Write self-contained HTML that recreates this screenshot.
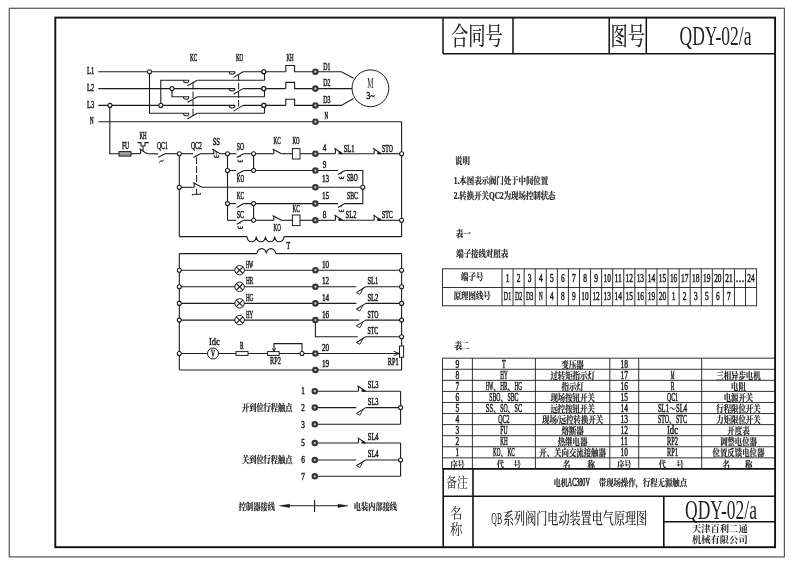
<!DOCTYPE html>
<html lang="zh"><head><meta charset="utf-8"><title>QDY-02/a</title>
<style>
html,body{margin:0;padding:0;background:#fff;}
svg{display:block;will-change:transform;}
.l{font-family:"Liberation Serif",serif;}
.c{font-family:"Liberation Serif","Noto Serif CJK SC",serif;}
</style></head><body>
<svg width="800" height="566" viewBox="0 0 800 566">
<rect width="800" height="566" fill="#fff"/>
<rect x="9.30" y="8.30" width="775.10" height="548.60" fill="none" stroke="#5a5a5a" stroke-width="1.25"/>
<rect x="55.30" y="17.60" width="719.80" height="529.60" fill="none" stroke="#111" stroke-width="1.9"/>
<line x1="443.00" y1="17.60" x2="443.00" y2="53.80" stroke="#111" stroke-width="1.5" />
<line x1="443.00" y1="53.80" x2="775.20" y2="53.80" stroke="#111" stroke-width="1.5" />
<line x1="513.00" y1="17.60" x2="513.00" y2="53.80" stroke="#111" stroke-width="1.5" />
<line x1="609.20" y1="17.60" x2="609.20" y2="53.80" stroke="#111" stroke-width="1.5" />
<line x1="646.30" y1="17.60" x2="646.30" y2="53.80" stroke="#111" stroke-width="1.5" />
<text transform="translate(451.00,44.50) scale(0.690,1)" font-size="25" text-anchor="start" font-weight="500" fill="#222" class="c">合同号</text>
<text transform="translate(610.50,44.50) scale(0.690,1)" font-size="25" text-anchor="start" font-weight="500" fill="#222" class="c">图号</text>
<text transform="translate(679.50,45.00) scale(0.649,1)" font-size="27" text-anchor="start" font-weight="400" fill="#222" class="l">QDY-02/a</text>
<line x1="442.50" y1="468.90" x2="775.20" y2="468.90" stroke="#111" stroke-width="1.6" />
<line x1="443.20" y1="468.90" x2="443.20" y2="547.20" stroke="#111" stroke-width="1.6" />
<line x1="473.00" y1="468.90" x2="473.00" y2="547.20" stroke="#111" stroke-width="1.6" />
<line x1="443.20" y1="496.30" x2="775.20" y2="496.30" stroke="#111" stroke-width="1.6" />
<line x1="663.80" y1="496.30" x2="663.80" y2="547.20" stroke="#111" stroke-width="1.6" />
<line x1="663.80" y1="521.80" x2="775.20" y2="521.80" stroke="#111" stroke-width="1.6" />
<text transform="translate(446.30,487.00) scale(0.790,1)" font-size="13.5" text-anchor="start" font-weight="400" fill="#222" class="c">备注</text>
<text transform="translate(450.00,517.50) scale(0.930,1)" font-size="13.5" text-anchor="start" font-weight="400" fill="#222" class="c">名</text>
<text transform="translate(450.00,534.00) scale(0.930,1)" font-size="13.5" text-anchor="start" font-weight="400" fill="#222" class="c">称</text>
<text transform="translate(491.30,524.00) scale(0.457,1)" font-size="17" text-anchor="start" font-weight="400" fill="#222" class="l">QB</text>
<text transform="translate(503.00,524.00) scale(0.716,1)" font-size="15.5" text-anchor="start" font-weight="500" fill="#222" class="c">系列阀门电动装置电气原理图</text>
<text transform="translate(553.80,486.00) scale(0.740,1)" font-size="9.5" text-anchor="start" font-weight="700" fill="#222" stroke="#222" stroke-width="0.2" class="c">电机</text>
<text transform="translate(567.80,485.60) scale(0.530,1)" font-size="11.5" text-anchor="start" font-weight="400" fill="#222" stroke="#222" stroke-width="0.45" vector-effect="non-scaling-stroke" class="l">AC380V</text>
<text transform="translate(598.80,486.00) scale(0.775,1)" font-size="9.5" text-anchor="start" font-weight="700" fill="#222" stroke="#222" stroke-width="0.2" class="c">带现场操作，行程无源触点</text>
<text transform="translate(685.00,518.50) scale(0.649,1)" font-size="27" text-anchor="start" font-weight="400" fill="#222" class="l">QDY-02/a</text>
<text transform="translate(719.80,532.00) scale(1.000,1)" font-size="9.3" text-anchor="middle" font-weight="700" fill="#222" class="c">天津百利二通</text>
<text transform="translate(719.80,542.70) scale(1.000,1)" font-size="9.3" text-anchor="middle" font-weight="700" fill="#222" class="c">机械有限公司</text>
<text transform="translate(455.00,164.30) scale(0.780,1)" font-size="9.5" text-anchor="start" font-weight="700" fill="#222" stroke="#222" stroke-width="0.2" class="c">说明</text>
<text transform="translate(453.80,184.00) scale(0.780,1)" font-size="9.5" text-anchor="start" font-weight="700" fill="#222" stroke="#222" stroke-width="0.2" class="c">1.本图表示阀门处于中间位置</text>
<text transform="translate(453.80,198.50) scale(0.780,1)" font-size="9.5" text-anchor="start" font-weight="700" fill="#222" stroke="#222" stroke-width="0.2" class="c">2.转换开关QC2为现场控制状态</text>
<text transform="translate(455.80,236.70) scale(0.780,1)" font-size="9.5" text-anchor="start" font-weight="700" fill="#222" stroke="#222" stroke-width="0.2" class="c">表一</text>
<text transform="translate(456.30,257.00) scale(0.780,1)" font-size="9.5" text-anchor="start" font-weight="700" fill="#222" stroke="#222" stroke-width="0.2" class="c">端子接线对照表</text>
<text transform="translate(454.40,348.50) scale(0.780,1)" font-size="9.5" text-anchor="start" font-weight="700" fill="#222" stroke="#222" stroke-width="0.2" class="c">表二</text>
<rect x="442.50" y="268.80" width="314.10" height="37.00" fill="none" stroke="#1c1c1c" stroke-width="0.9"/>
<line x1="442.50" y1="287.50" x2="756.60" y2="287.50" stroke="#1c1c1c" stroke-width="0.9" />
<line x1="502.00" y1="268.80" x2="502.00" y2="305.80" stroke="#1c1c1c" stroke-width="0.9" />
<line x1="513.07" y1="268.80" x2="513.07" y2="305.80" stroke="#1c1c1c" stroke-width="0.9" />
<line x1="524.14" y1="268.80" x2="524.14" y2="305.80" stroke="#1c1c1c" stroke-width="0.9" />
<line x1="535.21" y1="268.80" x2="535.21" y2="305.80" stroke="#1c1c1c" stroke-width="0.9" />
<line x1="546.28" y1="268.80" x2="546.28" y2="305.80" stroke="#1c1c1c" stroke-width="0.9" />
<line x1="557.35" y1="268.80" x2="557.35" y2="305.80" stroke="#1c1c1c" stroke-width="0.9" />
<line x1="568.42" y1="268.80" x2="568.42" y2="305.80" stroke="#1c1c1c" stroke-width="0.9" />
<line x1="579.49" y1="268.80" x2="579.49" y2="305.80" stroke="#1c1c1c" stroke-width="0.9" />
<line x1="590.56" y1="268.80" x2="590.56" y2="305.80" stroke="#1c1c1c" stroke-width="0.9" />
<line x1="601.63" y1="268.80" x2="601.63" y2="305.80" stroke="#1c1c1c" stroke-width="0.9" />
<line x1="612.70" y1="268.80" x2="612.70" y2="305.80" stroke="#1c1c1c" stroke-width="0.9" />
<line x1="623.77" y1="268.80" x2="623.77" y2="305.80" stroke="#1c1c1c" stroke-width="0.9" />
<line x1="634.83" y1="268.80" x2="634.83" y2="305.80" stroke="#1c1c1c" stroke-width="0.9" />
<line x1="645.90" y1="268.80" x2="645.90" y2="305.80" stroke="#1c1c1c" stroke-width="0.9" />
<line x1="656.97" y1="268.80" x2="656.97" y2="305.80" stroke="#1c1c1c" stroke-width="0.9" />
<line x1="668.04" y1="268.80" x2="668.04" y2="305.80" stroke="#1c1c1c" stroke-width="0.9" />
<line x1="679.11" y1="268.80" x2="679.11" y2="305.80" stroke="#1c1c1c" stroke-width="0.9" />
<line x1="690.18" y1="268.80" x2="690.18" y2="305.80" stroke="#1c1c1c" stroke-width="0.9" />
<line x1="701.25" y1="268.80" x2="701.25" y2="305.80" stroke="#1c1c1c" stroke-width="0.9" />
<line x1="712.32" y1="268.80" x2="712.32" y2="305.80" stroke="#1c1c1c" stroke-width="0.9" />
<line x1="723.39" y1="268.80" x2="723.39" y2="305.80" stroke="#1c1c1c" stroke-width="0.9" />
<line x1="734.46" y1="268.80" x2="734.46" y2="305.80" stroke="#1c1c1c" stroke-width="0.9" />
<line x1="745.53" y1="268.80" x2="745.53" y2="305.80" stroke="#1c1c1c" stroke-width="0.9" />
<text transform="translate(472.20,280.30) scale(0.780,1)" font-size="9.5" text-anchor="middle" font-weight="700" fill="#222" stroke="#222" stroke-width="0.2" class="c">端子号</text>
<text transform="translate(472.20,298.80) scale(0.780,1)" font-size="9.5" text-anchor="middle" font-weight="700" fill="#222" stroke="#222" stroke-width="0.2" class="c">原理图线号</text>
<text transform="translate(507.53,282.30) scale(0.617,1)" font-size="12" text-anchor="middle" font-weight="400" fill="#222" stroke="#222" stroke-width="0.45" vector-effect="non-scaling-stroke" class="l">1</text>
<text transform="translate(507.53,299.80) scale(0.505,1)" font-size="12" text-anchor="middle" font-weight="400" fill="#222" stroke="#222" stroke-width="0.45" vector-effect="non-scaling-stroke" class="l">D1</text>
<text transform="translate(518.60,282.30) scale(0.617,1)" font-size="12" text-anchor="middle" font-weight="400" fill="#222" stroke="#222" stroke-width="0.45" vector-effect="non-scaling-stroke" class="l">2</text>
<text transform="translate(518.60,299.80) scale(0.505,1)" font-size="12" text-anchor="middle" font-weight="400" fill="#222" stroke="#222" stroke-width="0.45" vector-effect="non-scaling-stroke" class="l">D2</text>
<text transform="translate(529.67,282.30) scale(0.617,1)" font-size="12" text-anchor="middle" font-weight="400" fill="#222" stroke="#222" stroke-width="0.45" vector-effect="non-scaling-stroke" class="l">3</text>
<text transform="translate(529.67,299.80) scale(0.505,1)" font-size="12" text-anchor="middle" font-weight="400" fill="#222" stroke="#222" stroke-width="0.45" vector-effect="non-scaling-stroke" class="l">D3</text>
<text transform="translate(540.74,282.30) scale(0.617,1)" font-size="12" text-anchor="middle" font-weight="400" fill="#222" stroke="#222" stroke-width="0.45" vector-effect="non-scaling-stroke" class="l">4</text>
<text transform="translate(540.74,299.80) scale(0.427,1)" font-size="12" text-anchor="middle" font-weight="400" fill="#222" stroke="#222" stroke-width="0.45" vector-effect="non-scaling-stroke" class="l">N</text>
<text transform="translate(551.81,282.30) scale(0.617,1)" font-size="12" text-anchor="middle" font-weight="400" fill="#222" stroke="#222" stroke-width="0.45" vector-effect="non-scaling-stroke" class="l">5</text>
<text transform="translate(551.81,299.80) scale(0.617,1)" font-size="12" text-anchor="middle" font-weight="400" fill="#222" stroke="#222" stroke-width="0.45" vector-effect="non-scaling-stroke" class="l">4</text>
<text transform="translate(562.88,282.30) scale(0.617,1)" font-size="12" text-anchor="middle" font-weight="400" fill="#222" stroke="#222" stroke-width="0.45" vector-effect="non-scaling-stroke" class="l">6</text>
<text transform="translate(562.88,299.80) scale(0.617,1)" font-size="12" text-anchor="middle" font-weight="400" fill="#222" stroke="#222" stroke-width="0.45" vector-effect="non-scaling-stroke" class="l">8</text>
<text transform="translate(573.95,282.30) scale(0.617,1)" font-size="12" text-anchor="middle" font-weight="400" fill="#222" stroke="#222" stroke-width="0.45" vector-effect="non-scaling-stroke" class="l">7</text>
<text transform="translate(573.95,299.80) scale(0.617,1)" font-size="12" text-anchor="middle" font-weight="400" fill="#222" stroke="#222" stroke-width="0.45" vector-effect="non-scaling-stroke" class="l">9</text>
<text transform="translate(585.02,282.30) scale(0.617,1)" font-size="12" text-anchor="middle" font-weight="400" fill="#222" stroke="#222" stroke-width="0.45" vector-effect="non-scaling-stroke" class="l">8</text>
<text transform="translate(585.02,299.80) scale(0.617,1)" font-size="12" text-anchor="middle" font-weight="400" fill="#222" stroke="#222" stroke-width="0.45" vector-effect="non-scaling-stroke" class="l">10</text>
<text transform="translate(596.09,282.30) scale(0.617,1)" font-size="12" text-anchor="middle" font-weight="400" fill="#222" stroke="#222" stroke-width="0.45" vector-effect="non-scaling-stroke" class="l">9</text>
<text transform="translate(596.09,299.80) scale(0.617,1)" font-size="12" text-anchor="middle" font-weight="400" fill="#222" stroke="#222" stroke-width="0.45" vector-effect="non-scaling-stroke" class="l">12</text>
<text transform="translate(607.16,282.30) scale(0.617,1)" font-size="12" text-anchor="middle" font-weight="400" fill="#222" stroke="#222" stroke-width="0.45" vector-effect="non-scaling-stroke" class="l">10</text>
<text transform="translate(607.16,299.80) scale(0.617,1)" font-size="12" text-anchor="middle" font-weight="400" fill="#222" stroke="#222" stroke-width="0.45" vector-effect="non-scaling-stroke" class="l">13</text>
<text transform="translate(618.23,282.30) scale(0.640,1)" font-size="12" text-anchor="middle" font-weight="400" fill="#222" stroke="#222" stroke-width="0.45" vector-effect="non-scaling-stroke" class="l">11</text>
<text transform="translate(618.23,299.80) scale(0.617,1)" font-size="12" text-anchor="middle" font-weight="400" fill="#222" stroke="#222" stroke-width="0.45" vector-effect="non-scaling-stroke" class="l">14</text>
<text transform="translate(629.30,282.30) scale(0.617,1)" font-size="12" text-anchor="middle" font-weight="400" fill="#222" stroke="#222" stroke-width="0.45" vector-effect="non-scaling-stroke" class="l">12</text>
<text transform="translate(629.30,299.80) scale(0.617,1)" font-size="12" text-anchor="middle" font-weight="400" fill="#222" stroke="#222" stroke-width="0.45" vector-effect="non-scaling-stroke" class="l">15</text>
<text transform="translate(640.37,282.30) scale(0.617,1)" font-size="12" text-anchor="middle" font-weight="400" fill="#222" stroke="#222" stroke-width="0.45" vector-effect="non-scaling-stroke" class="l">13</text>
<text transform="translate(640.37,299.80) scale(0.617,1)" font-size="12" text-anchor="middle" font-weight="400" fill="#222" stroke="#222" stroke-width="0.45" vector-effect="non-scaling-stroke" class="l">16</text>
<text transform="translate(651.44,282.30) scale(0.617,1)" font-size="12" text-anchor="middle" font-weight="400" fill="#222" stroke="#222" stroke-width="0.45" vector-effect="non-scaling-stroke" class="l">14</text>
<text transform="translate(651.44,299.80) scale(0.617,1)" font-size="12" text-anchor="middle" font-weight="400" fill="#222" stroke="#222" stroke-width="0.45" vector-effect="non-scaling-stroke" class="l">19</text>
<text transform="translate(662.51,282.30) scale(0.617,1)" font-size="12" text-anchor="middle" font-weight="400" fill="#222" stroke="#222" stroke-width="0.45" vector-effect="non-scaling-stroke" class="l">15</text>
<text transform="translate(662.51,299.80) scale(0.617,1)" font-size="12" text-anchor="middle" font-weight="400" fill="#222" stroke="#222" stroke-width="0.45" vector-effect="non-scaling-stroke" class="l">20</text>
<text transform="translate(673.58,282.30) scale(0.617,1)" font-size="12" text-anchor="middle" font-weight="400" fill="#222" stroke="#222" stroke-width="0.45" vector-effect="non-scaling-stroke" class="l">16</text>
<text transform="translate(673.58,299.80) scale(0.617,1)" font-size="12" text-anchor="middle" font-weight="400" fill="#222" stroke="#222" stroke-width="0.45" vector-effect="non-scaling-stroke" class="l">1</text>
<text transform="translate(684.65,282.30) scale(0.617,1)" font-size="12" text-anchor="middle" font-weight="400" fill="#222" stroke="#222" stroke-width="0.45" vector-effect="non-scaling-stroke" class="l">17</text>
<text transform="translate(684.65,299.80) scale(0.617,1)" font-size="12" text-anchor="middle" font-weight="400" fill="#222" stroke="#222" stroke-width="0.45" vector-effect="non-scaling-stroke" class="l">2</text>
<text transform="translate(695.72,282.30) scale(0.617,1)" font-size="12" text-anchor="middle" font-weight="400" fill="#222" stroke="#222" stroke-width="0.45" vector-effect="non-scaling-stroke" class="l">18</text>
<text transform="translate(695.72,299.80) scale(0.617,1)" font-size="12" text-anchor="middle" font-weight="400" fill="#222" stroke="#222" stroke-width="0.45" vector-effect="non-scaling-stroke" class="l">3</text>
<text transform="translate(706.79,282.30) scale(0.617,1)" font-size="12" text-anchor="middle" font-weight="400" fill="#222" stroke="#222" stroke-width="0.45" vector-effect="non-scaling-stroke" class="l">19</text>
<text transform="translate(706.79,299.80) scale(0.617,1)" font-size="12" text-anchor="middle" font-weight="400" fill="#222" stroke="#222" stroke-width="0.45" vector-effect="non-scaling-stroke" class="l">5</text>
<text transform="translate(717.86,282.30) scale(0.617,1)" font-size="12" text-anchor="middle" font-weight="400" fill="#222" stroke="#222" stroke-width="0.45" vector-effect="non-scaling-stroke" class="l">20</text>
<text transform="translate(717.86,299.80) scale(0.617,1)" font-size="12" text-anchor="middle" font-weight="400" fill="#222" stroke="#222" stroke-width="0.45" vector-effect="non-scaling-stroke" class="l">6</text>
<text transform="translate(728.93,282.30) scale(0.617,1)" font-size="12" text-anchor="middle" font-weight="400" fill="#222" stroke="#222" stroke-width="0.45" vector-effect="non-scaling-stroke" class="l">21</text>
<text transform="translate(728.93,299.80) scale(0.617,1)" font-size="12" text-anchor="middle" font-weight="400" fill="#222" stroke="#222" stroke-width="0.45" vector-effect="non-scaling-stroke" class="l">7</text>
<text transform="translate(740.00,282.30) scale(1.000,1)" font-size="12" text-anchor="middle" font-weight="400" fill="#222" stroke="#222" stroke-width="0.45" vector-effect="non-scaling-stroke" class="l">...</text>
<text transform="translate(751.07,282.30) scale(0.617,1)" font-size="12" text-anchor="middle" font-weight="400" fill="#222" stroke="#222" stroke-width="0.45" vector-effect="non-scaling-stroke" class="l">24</text>
<line x1="442.50" y1="358.20" x2="775.20" y2="358.20" stroke="#1c1c1c" stroke-width="0.9" />
<line x1="442.50" y1="369.27" x2="775.20" y2="369.27" stroke="#1c1c1c" stroke-width="0.9" />
<line x1="442.50" y1="380.34" x2="775.20" y2="380.34" stroke="#1c1c1c" stroke-width="0.9" />
<line x1="442.50" y1="391.41" x2="775.20" y2="391.41" stroke="#1c1c1c" stroke-width="0.9" />
<line x1="442.50" y1="402.48" x2="775.20" y2="402.48" stroke="#1c1c1c" stroke-width="0.9" />
<line x1="442.50" y1="413.55" x2="775.20" y2="413.55" stroke="#1c1c1c" stroke-width="0.9" />
<line x1="442.50" y1="424.62" x2="775.20" y2="424.62" stroke="#1c1c1c" stroke-width="0.9" />
<line x1="442.50" y1="435.69" x2="775.20" y2="435.69" stroke="#1c1c1c" stroke-width="0.9" />
<line x1="442.50" y1="446.76" x2="775.20" y2="446.76" stroke="#1c1c1c" stroke-width="0.9" />
<line x1="442.50" y1="457.83" x2="775.20" y2="457.83" stroke="#1c1c1c" stroke-width="0.9" />
<line x1="442.50" y1="358.20" x2="442.50" y2="468.90" stroke="#1c1c1c" stroke-width="0.9" />
<line x1="472.40" y1="358.20" x2="472.40" y2="468.90" stroke="#1c1c1c" stroke-width="0.9" />
<line x1="535.40" y1="358.20" x2="535.40" y2="468.90" stroke="#1c1c1c" stroke-width="0.9" />
<line x1="609.80" y1="358.20" x2="609.80" y2="468.90" stroke="#1c1c1c" stroke-width="0.9" />
<line x1="638.70" y1="358.20" x2="638.70" y2="468.90" stroke="#1c1c1c" stroke-width="0.9" />
<line x1="701.70" y1="358.20" x2="701.70" y2="468.90" stroke="#1c1c1c" stroke-width="0.9" />
<text transform="translate(457.45,367.50) scale(0.617,1)" font-size="12" text-anchor="middle" font-weight="400" fill="#222" stroke="#222" stroke-width="0.45" vector-effect="non-scaling-stroke" class="l">9</text>
<text transform="translate(502.05,367.50) scale(0.505,1)" font-size="12" text-anchor="start" font-weight="400" fill="#222" stroke="#222" stroke-width="0.45" vector-effect="non-scaling-stroke" class="l">T</text>
<text transform="translate(572.60,367.90) scale(0.780,1)" font-size="9.5" text-anchor="middle" font-weight="700" fill="#222" stroke="#222" stroke-width="0.2" class="c">变压器</text>
<text transform="translate(624.25,367.50) scale(0.617,1)" font-size="12" text-anchor="middle" font-weight="400" fill="#222" stroke="#222" stroke-width="0.45" vector-effect="non-scaling-stroke" class="l">18</text>
<text transform="translate(457.45,378.57) scale(0.617,1)" font-size="12" text-anchor="middle" font-weight="400" fill="#222" stroke="#222" stroke-width="0.45" vector-effect="non-scaling-stroke" class="l">8</text>
<text transform="translate(500.20,378.57) scale(0.427,1)" font-size="12" text-anchor="start" font-weight="400" fill="#222" stroke="#222" stroke-width="0.45" vector-effect="non-scaling-stroke" class="l">HY</text>
<text transform="translate(572.60,378.97) scale(0.780,1)" font-size="9.5" text-anchor="middle" font-weight="700" fill="#222" stroke="#222" stroke-width="0.2" class="c">过转矩指示灯</text>
<text transform="translate(624.25,378.57) scale(0.617,1)" font-size="12" text-anchor="middle" font-weight="400" fill="#222" stroke="#222" stroke-width="0.45" vector-effect="non-scaling-stroke" class="l">17</text>
<text transform="translate(670.65,378.57) scale(0.347,1)" font-size="12" text-anchor="start" font-weight="400" fill="#222" stroke="#222" stroke-width="0.45" vector-effect="non-scaling-stroke" class="l">M</text>
<text transform="translate(738.45,378.97) scale(0.780,1)" font-size="9.5" text-anchor="middle" font-weight="700" fill="#222" stroke="#222" stroke-width="0.2" class="c">三相异步电机</text>
<text transform="translate(457.45,389.64) scale(0.617,1)" font-size="12" text-anchor="middle" font-weight="400" fill="#222" stroke="#222" stroke-width="0.45" vector-effect="non-scaling-stroke" class="l">7</text>
<text transform="translate(485.80,389.64) scale(0.370,1)" font-size="12" text-anchor="start" font-weight="400" fill="#222" stroke="#222" stroke-width="0.45" vector-effect="non-scaling-stroke" class="l">HW</text>
<text transform="translate(493.20,389.64) scale(0.740,1)" font-size="9.5" text-anchor="start" font-weight="700" fill="#222" stroke="#222" stroke-width="0.2" class="c">、</text>
<text transform="translate(500.20,389.64) scale(0.444,1)" font-size="12" text-anchor="start" font-weight="400" fill="#222" stroke="#222" stroke-width="0.45" vector-effect="non-scaling-stroke" class="l">HR</text>
<text transform="translate(507.60,389.64) scale(0.740,1)" font-size="9.5" text-anchor="start" font-weight="700" fill="#222" stroke="#222" stroke-width="0.2" class="c">、</text>
<text transform="translate(514.60,389.64) scale(0.427,1)" font-size="12" text-anchor="start" font-weight="400" fill="#222" stroke="#222" stroke-width="0.45" vector-effect="non-scaling-stroke" class="l">HG</text>
<text transform="translate(572.60,390.04) scale(0.780,1)" font-size="9.5" text-anchor="middle" font-weight="700" fill="#222" stroke="#222" stroke-width="0.2" class="c">指示灯</text>
<text transform="translate(624.25,389.64) scale(0.617,1)" font-size="12" text-anchor="middle" font-weight="400" fill="#222" stroke="#222" stroke-width="0.45" vector-effect="non-scaling-stroke" class="l">16</text>
<text transform="translate(670.65,389.64) scale(0.462,1)" font-size="12" text-anchor="start" font-weight="400" fill="#222" stroke="#222" stroke-width="0.45" vector-effect="non-scaling-stroke" class="l">R</text>
<text transform="translate(738.45,390.04) scale(0.780,1)" font-size="9.5" text-anchor="middle" font-weight="700" fill="#222" stroke="#222" stroke-width="0.2" class="c">电阻</text>
<text transform="translate(457.45,400.71) scale(0.617,1)" font-size="12" text-anchor="middle" font-weight="400" fill="#222" stroke="#222" stroke-width="0.45" vector-effect="non-scaling-stroke" class="l">6</text>
<text transform="translate(489.30,400.71) scale(0.476,1)" font-size="12" text-anchor="start" font-weight="400" fill="#222" stroke="#222" stroke-width="0.45" vector-effect="non-scaling-stroke" class="l">SBO</text>
<text transform="translate(500.40,400.71) scale(0.740,1)" font-size="9.5" text-anchor="start" font-weight="700" fill="#222" stroke="#222" stroke-width="0.2" class="c">、</text>
<text transform="translate(507.40,400.71) scale(0.489,1)" font-size="12" text-anchor="start" font-weight="400" fill="#222" stroke="#222" stroke-width="0.45" vector-effect="non-scaling-stroke" class="l">SBC</text>
<text transform="translate(572.60,401.11) scale(0.780,1)" font-size="9.5" text-anchor="middle" font-weight="700" fill="#222" stroke="#222" stroke-width="0.2" class="c">现场按钮开关</text>
<text transform="translate(624.25,400.71) scale(0.617,1)" font-size="12" text-anchor="middle" font-weight="400" fill="#222" stroke="#222" stroke-width="0.45" vector-effect="non-scaling-stroke" class="l">15</text>
<text transform="translate(666.95,400.71) scale(0.490,1)" font-size="12" text-anchor="start" font-weight="400" fill="#222" stroke="#222" stroke-width="0.45" vector-effect="non-scaling-stroke" class="l">QC1</text>
<text transform="translate(738.45,401.11) scale(0.780,1)" font-size="9.5" text-anchor="middle" font-weight="700" fill="#222" stroke="#222" stroke-width="0.2" class="c">电源开关</text>
<text transform="translate(457.45,411.78) scale(0.617,1)" font-size="12" text-anchor="middle" font-weight="400" fill="#222" stroke="#222" stroke-width="0.45" vector-effect="non-scaling-stroke" class="l">5</text>
<text transform="translate(485.80,411.78) scale(0.554,1)" font-size="12" text-anchor="start" font-weight="400" fill="#222" stroke="#222" stroke-width="0.45" vector-effect="non-scaling-stroke" class="l">SS</text>
<text transform="translate(493.20,411.78) scale(0.740,1)" font-size="9.5" text-anchor="start" font-weight="700" fill="#222" stroke="#222" stroke-width="0.2" class="c">、</text>
<text transform="translate(500.20,411.78) scale(0.482,1)" font-size="12" text-anchor="start" font-weight="400" fill="#222" stroke="#222" stroke-width="0.45" vector-effect="non-scaling-stroke" class="l">SO</text>
<text transform="translate(507.60,411.78) scale(0.740,1)" font-size="9.5" text-anchor="start" font-weight="700" fill="#222" stroke="#222" stroke-width="0.2" class="c">、</text>
<text transform="translate(514.60,411.78) scale(0.504,1)" font-size="12" text-anchor="start" font-weight="400" fill="#222" stroke="#222" stroke-width="0.45" vector-effect="non-scaling-stroke" class="l">SC</text>
<text transform="translate(572.60,412.18) scale(0.780,1)" font-size="9.5" text-anchor="middle" font-weight="700" fill="#222" stroke="#222" stroke-width="0.2" class="c">远控按钮开关</text>
<text transform="translate(624.25,411.78) scale(0.617,1)" font-size="12" text-anchor="middle" font-weight="400" fill="#222" stroke="#222" stroke-width="0.45" vector-effect="non-scaling-stroke" class="l">14</text>
<text transform="translate(657.90,411.78) scale(0.555,1)" font-size="12" text-anchor="start" font-weight="400" fill="#222" stroke="#222" stroke-width="0.45" vector-effect="non-scaling-stroke" class="l">SL1</text>
<text transform="translate(669.00,411.78) scale(0.740,1)" font-size="9.5" text-anchor="start" font-weight="700" fill="#222" stroke="#222" stroke-width="0.2" class="c">～</text>
<text transform="translate(676.00,411.78) scale(0.555,1)" font-size="12" text-anchor="start" font-weight="400" fill="#222" stroke="#222" stroke-width="0.45" vector-effect="non-scaling-stroke" class="l">SL4</text>
<text transform="translate(738.45,412.18) scale(0.780,1)" font-size="9.5" text-anchor="middle" font-weight="700" fill="#222" stroke="#222" stroke-width="0.2" class="c">行程限位开关</text>
<text transform="translate(457.45,422.85) scale(0.617,1)" font-size="12" text-anchor="middle" font-weight="400" fill="#222" stroke="#222" stroke-width="0.45" vector-effect="non-scaling-stroke" class="l">4</text>
<text transform="translate(498.35,422.85) scale(0.490,1)" font-size="12" text-anchor="start" font-weight="400" fill="#222" stroke="#222" stroke-width="0.45" vector-effect="non-scaling-stroke" class="l">QC2</text>
<text transform="translate(572.60,423.25) scale(0.780,1)" font-size="9.5" text-anchor="middle" font-weight="700" fill="#222" stroke="#222" stroke-width="0.2" class="c">现场/远控转换开关</text>
<text transform="translate(624.25,422.85) scale(0.617,1)" font-size="12" text-anchor="middle" font-weight="400" fill="#222" stroke="#222" stroke-width="0.45" vector-effect="non-scaling-stroke" class="l">13</text>
<text transform="translate(657.90,422.85) scale(0.494,1)" font-size="12" text-anchor="start" font-weight="400" fill="#222" stroke="#222" stroke-width="0.45" vector-effect="non-scaling-stroke" class="l">STO</text>
<text transform="translate(669.00,422.85) scale(0.740,1)" font-size="9.5" text-anchor="start" font-weight="700" fill="#222" stroke="#222" stroke-width="0.2" class="c">、</text>
<text transform="translate(676.00,422.85) scale(0.504,1)" font-size="12" text-anchor="start" font-weight="400" fill="#222" stroke="#222" stroke-width="0.45" vector-effect="non-scaling-stroke" class="l">STC</text>
<text transform="translate(738.45,423.25) scale(0.780,1)" font-size="9.5" text-anchor="middle" font-weight="700" fill="#222" stroke="#222" stroke-width="0.2" class="c">力矩限位开关</text>
<text transform="translate(457.45,433.92) scale(0.617,1)" font-size="12" text-anchor="middle" font-weight="400" fill="#222" stroke="#222" stroke-width="0.45" vector-effect="non-scaling-stroke" class="l">3</text>
<text transform="translate(500.20,433.92) scale(0.482,1)" font-size="12" text-anchor="start" font-weight="400" fill="#222" stroke="#222" stroke-width="0.45" vector-effect="non-scaling-stroke" class="l">FU</text>
<text transform="translate(572.60,434.32) scale(0.780,1)" font-size="9.5" text-anchor="middle" font-weight="700" fill="#222" stroke="#222" stroke-width="0.2" class="c">熔断器</text>
<text transform="translate(624.25,433.92) scale(0.617,1)" font-size="12" text-anchor="middle" font-weight="400" fill="#222" stroke="#222" stroke-width="0.45" vector-effect="non-scaling-stroke" class="l">12</text>
<text transform="translate(666.95,433.92) scale(0.724,1)" font-size="12" text-anchor="start" font-weight="400" fill="#222" stroke="#222" stroke-width="0.45" vector-effect="non-scaling-stroke" class="l">Idc</text>
<text transform="translate(738.45,434.32) scale(0.780,1)" font-size="9.5" text-anchor="middle" font-weight="700" fill="#222" stroke="#222" stroke-width="0.2" class="c">开度表</text>
<text transform="translate(457.45,444.99) scale(0.617,1)" font-size="12" text-anchor="middle" font-weight="400" fill="#222" stroke="#222" stroke-width="0.45" vector-effect="non-scaling-stroke" class="l">2</text>
<text transform="translate(500.20,444.99) scale(0.427,1)" font-size="12" text-anchor="start" font-weight="400" fill="#222" stroke="#222" stroke-width="0.45" vector-effect="non-scaling-stroke" class="l">KH</text>
<text transform="translate(572.60,445.39) scale(0.780,1)" font-size="9.5" text-anchor="middle" font-weight="700" fill="#222" stroke="#222" stroke-width="0.2" class="c">热继电器</text>
<text transform="translate(624.25,444.99) scale(0.640,1)" font-size="12" text-anchor="middle" font-weight="400" fill="#222" stroke="#222" stroke-width="0.45" vector-effect="non-scaling-stroke" class="l">11</text>
<text transform="translate(666.95,444.99) scale(0.537,1)" font-size="12" text-anchor="start" font-weight="400" fill="#222" stroke="#222" stroke-width="0.45" vector-effect="non-scaling-stroke" class="l">RP2</text>
<text transform="translate(738.45,445.39) scale(0.780,1)" font-size="9.5" text-anchor="middle" font-weight="700" fill="#222" stroke="#222" stroke-width="0.2" class="c">调整电位器</text>
<text transform="translate(457.45,456.06) scale(0.617,1)" font-size="12" text-anchor="middle" font-weight="400" fill="#222" stroke="#222" stroke-width="0.45" vector-effect="non-scaling-stroke" class="l">1</text>
<text transform="translate(493.00,456.06) scale(0.427,1)" font-size="12" text-anchor="start" font-weight="400" fill="#222" stroke="#222" stroke-width="0.45" vector-effect="non-scaling-stroke" class="l">KO</text>
<text transform="translate(500.40,456.06) scale(0.740,1)" font-size="9.5" text-anchor="start" font-weight="700" fill="#222" stroke="#222" stroke-width="0.2" class="c">、</text>
<text transform="translate(507.40,456.06) scale(0.444,1)" font-size="12" text-anchor="start" font-weight="400" fill="#222" stroke="#222" stroke-width="0.45" vector-effect="non-scaling-stroke" class="l">KC</text>
<text transform="translate(572.60,456.46) scale(0.780,1)" font-size="9.5" text-anchor="middle" font-weight="700" fill="#222" stroke="#222" stroke-width="0.2" class="c">开、关向交流接触器</text>
<text transform="translate(624.25,456.06) scale(0.617,1)" font-size="12" text-anchor="middle" font-weight="400" fill="#222" stroke="#222" stroke-width="0.45" vector-effect="non-scaling-stroke" class="l">10</text>
<text transform="translate(666.95,456.06) scale(0.537,1)" font-size="12" text-anchor="start" font-weight="400" fill="#222" stroke="#222" stroke-width="0.45" vector-effect="non-scaling-stroke" class="l">RP1</text>
<text transform="translate(738.45,456.46) scale(0.780,1)" font-size="9.5" text-anchor="middle" font-weight="700" fill="#222" stroke="#222" stroke-width="0.2" class="c">位置反馈电位器</text>
<text transform="translate(457.45,468.33) scale(0.740,1)" font-size="9.5" text-anchor="middle" font-weight="700" fill="#222" stroke="#222" stroke-width="0.2" class="c">序号</text>
<text transform="translate(504.10,468.33) scale(0.780,1)" font-size="9.5" text-anchor="end" font-weight="700" fill="#222" stroke="#222" stroke-width="0.2" class="c">代</text>
<text transform="translate(513.40,468.33) scale(0.780,1)" font-size="9.5" text-anchor="start" font-weight="700" fill="#222" stroke="#222" stroke-width="0.2" class="c">号</text>
<text transform="translate(570.40,468.33) scale(0.780,1)" font-size="9.5" text-anchor="end" font-weight="700" fill="#222" stroke="#222" stroke-width="0.2" class="c">名</text>
<text transform="translate(587.60,468.33) scale(0.780,1)" font-size="9.5" text-anchor="start" font-weight="700" fill="#222" stroke="#222" stroke-width="0.2" class="c">称</text>
<text transform="translate(624.25,468.33) scale(0.740,1)" font-size="9.5" text-anchor="middle" font-weight="700" fill="#222" stroke="#222" stroke-width="0.2" class="c">序号</text>
<text transform="translate(666.20,468.33) scale(0.780,1)" font-size="9.5" text-anchor="end" font-weight="700" fill="#222" stroke="#222" stroke-width="0.2" class="c">代</text>
<text transform="translate(676.20,468.33) scale(0.780,1)" font-size="9.5" text-anchor="start" font-weight="700" fill="#222" stroke="#222" stroke-width="0.2" class="c">号</text>
<text transform="translate(729.95,468.33) scale(0.780,1)" font-size="9.5" text-anchor="end" font-weight="700" fill="#222" stroke="#222" stroke-width="0.2" class="c">名</text>
<text transform="translate(744.95,468.33) scale(0.780,1)" font-size="9.5" text-anchor="start" font-weight="700" fill="#222" stroke="#222" stroke-width="0.2" class="c">称</text>
<text transform="translate(87.00,74.00) scale(0.617,1)" font-size="10.5" text-anchor="start" font-weight="400" fill="#222" stroke="#222" stroke-width="0.45" vector-effect="non-scaling-stroke" class="l">L1</text>
<text transform="translate(87.00,90.90) scale(0.617,1)" font-size="10.5" text-anchor="start" font-weight="400" fill="#222" stroke="#222" stroke-width="0.45" vector-effect="non-scaling-stroke" class="l">L2</text>
<text transform="translate(87.00,107.70) scale(0.617,1)" font-size="10.5" text-anchor="start" font-weight="400" fill="#222" stroke="#222" stroke-width="0.45" vector-effect="non-scaling-stroke" class="l">L3</text>
<text transform="translate(90.00,124.30) scale(0.475,1)" font-size="10.5" text-anchor="start" font-weight="400" fill="#222" stroke="#222" stroke-width="0.45" vector-effect="non-scaling-stroke" class="l">N</text>
<line x1="98.30" y1="71.70" x2="235.00" y2="71.70" stroke="#1c1c1c" stroke-width="1.1" />
<path d="M229.2,71.70 a2.9,2.5 0 0 0 5.8,0" fill="none" stroke="#1c1c1c" stroke-width="1.05"/>
<line x1="233.50" y1="77.40" x2="243.00" y2="71.70" stroke="#1c1c1c" stroke-width="1.1" />
<line x1="243.00" y1="71.70" x2="285.80" y2="71.70" stroke="#1c1c1c" stroke-width="1.1" />
<polyline points="285.80,71.70 285.80,65.50 294.60,65.50 294.60,71.70 315.40,71.70" fill="none" stroke="#1c1c1c" stroke-width="1.1" stroke-linejoin="miter" />
<line x1="98.30" y1="88.60" x2="235.00" y2="88.60" stroke="#1c1c1c" stroke-width="1.1" />
<path d="M229.2,88.60 a2.9,2.5 0 0 0 5.8,0" fill="none" stroke="#1c1c1c" stroke-width="1.05"/>
<line x1="233.50" y1="94.30" x2="243.00" y2="88.60" stroke="#1c1c1c" stroke-width="1.1" />
<line x1="243.00" y1="88.60" x2="285.80" y2="88.60" stroke="#1c1c1c" stroke-width="1.1" />
<polyline points="285.80,88.60 285.80,82.40 294.60,82.40 294.60,88.60 315.40,88.60" fill="none" stroke="#1c1c1c" stroke-width="1.1" stroke-linejoin="miter" />
<line x1="98.30" y1="105.40" x2="235.00" y2="105.40" stroke="#1c1c1c" stroke-width="1.1" />
<path d="M229.2,105.40 a2.9,2.5 0 0 0 5.8,0" fill="none" stroke="#1c1c1c" stroke-width="1.05"/>
<line x1="233.50" y1="111.10" x2="243.00" y2="105.40" stroke="#1c1c1c" stroke-width="1.1" />
<line x1="243.00" y1="105.40" x2="285.80" y2="105.40" stroke="#1c1c1c" stroke-width="1.1" />
<polyline points="285.80,105.40 285.80,99.20 294.60,99.20 294.60,105.40 315.40,105.40" fill="none" stroke="#1c1c1c" stroke-width="1.1" stroke-linejoin="miter" />
<polyline points="315.40,71.70 341.30,71.70 353.60,78.30" fill="none" stroke="#1c1c1c" stroke-width="1.1" stroke-linejoin="miter" />
<line x1="315.40" y1="88.60" x2="352.00" y2="88.60" stroke="#1c1c1c" stroke-width="1.1" />
<polyline points="315.40,105.40 341.30,105.40 353.60,98.60" fill="none" stroke="#1c1c1c" stroke-width="1.1" stroke-linejoin="miter" />
<circle cx="370.40" cy="88.30" r="18.4" fill="none" stroke="#1c1c1c" stroke-width="1.0"/>
<text transform="translate(370.40,87.50) scale(0.465,1)" font-size="15" text-anchor="middle" font-weight="400" fill="#222" class="l">M</text>
<text transform="translate(370.40,98.50) scale(0.859,1)" font-size="9.5" text-anchor="middle" font-weight="400" fill="#222" stroke="#222" stroke-width="0.45" vector-effect="non-scaling-stroke" class="l">3~</text>
<line x1="98.30" y1="121.70" x2="401.60" y2="121.70" stroke="#1c1c1c" stroke-width="1.1" />
<path d="M183.4,80.30 a2.8,2.5 0 0 0 5.6,0" fill="none" stroke="#1c1c1c" stroke-width="1.05"/>
<line x1="187.50" y1="85.80" x2="197.30" y2="80.30" stroke="#1c1c1c" stroke-width="1.1" />
<line x1="197.30" y1="80.30" x2="264.50" y2="80.30" stroke="#1c1c1c" stroke-width="1.1" />
<path d="M183.4,96.80 a2.8,2.5 0 0 0 5.6,0" fill="none" stroke="#1c1c1c" stroke-width="1.05"/>
<line x1="187.50" y1="102.30" x2="197.30" y2="96.80" stroke="#1c1c1c" stroke-width="1.1" />
<line x1="197.30" y1="96.80" x2="264.50" y2="96.80" stroke="#1c1c1c" stroke-width="1.1" />
<path d="M183.4,113.30 a2.8,2.5 0 0 0 5.6,0" fill="none" stroke="#1c1c1c" stroke-width="1.05"/>
<line x1="187.50" y1="118.80" x2="197.30" y2="113.30" stroke="#1c1c1c" stroke-width="1.1" />
<line x1="197.30" y1="113.30" x2="264.50" y2="113.30" stroke="#1c1c1c" stroke-width="1.1" />
<polyline points="149.50,71.70 149.50,113.30 189.00,113.30" fill="none" stroke="#1c1c1c" stroke-width="1.1" stroke-linejoin="miter" />
<polyline points="160.80,105.40 160.80,80.30 189.00,80.30" fill="none" stroke="#1c1c1c" stroke-width="1.1" stroke-linejoin="miter" />
<polyline points="172.00,88.60 172.00,96.80 189.00,96.80" fill="none" stroke="#1c1c1c" stroke-width="1.1" stroke-linejoin="miter" />
<line x1="264.50" y1="71.70" x2="264.50" y2="80.30" stroke="#1c1c1c" stroke-width="1.1" />
<line x1="264.50" y1="88.60" x2="264.50" y2="96.80" stroke="#1c1c1c" stroke-width="1.1" />
<line x1="264.50" y1="105.40" x2="264.50" y2="113.30" stroke="#1c1c1c" stroke-width="1.1" />
<line x1="193.00" y1="83.00" x2="193.00" y2="116.50" stroke="#1c1c1c" stroke-width="1.0" stroke-dasharray="6.5,2"/>
<line x1="238.60" y1="74.50" x2="238.60" y2="107.50" stroke="#1c1c1c" stroke-width="1.0" stroke-dasharray="6.5,2"/>
<text transform="translate(190.00,61.00) scale(0.494,1)" font-size="10.5" text-anchor="start" font-weight="400" fill="#222" stroke="#222" stroke-width="0.45" vector-effect="non-scaling-stroke" class="l">KC</text>
<text transform="translate(236.00,61.00) scale(0.475,1)" font-size="10.5" text-anchor="start" font-weight="400" fill="#222" stroke="#222" stroke-width="0.45" vector-effect="non-scaling-stroke" class="l">KO</text>
<text transform="translate(286.50,61.00) scale(0.475,1)" font-size="10.5" text-anchor="start" font-weight="400" fill="#222" stroke="#222" stroke-width="0.45" vector-effect="non-scaling-stroke" class="l">KH</text>
<text transform="translate(323.20,69.50) scale(0.561,1)" font-size="10.5" text-anchor="start" font-weight="400" fill="#222" stroke="#222" stroke-width="0.45" vector-effect="non-scaling-stroke" class="l">D1</text>
<text transform="translate(323.20,86.40) scale(0.561,1)" font-size="10.5" text-anchor="start" font-weight="400" fill="#222" stroke="#222" stroke-width="0.45" vector-effect="non-scaling-stroke" class="l">D2</text>
<text transform="translate(323.20,103.20) scale(0.561,1)" font-size="10.5" text-anchor="start" font-weight="400" fill="#222" stroke="#222" stroke-width="0.45" vector-effect="non-scaling-stroke" class="l">D3</text>
<text transform="translate(324.50,119.30) scale(0.475,1)" font-size="10.5" text-anchor="start" font-weight="400" fill="#222" stroke="#222" stroke-width="0.45" vector-effect="non-scaling-stroke" class="l">N</text>
<polyline points="109.80,105.40 109.80,153.70 119.00,153.70" fill="none" stroke="#1c1c1c" stroke-width="1.1" stroke-linejoin="miter" />
<rect x="119.00" y="151.60" width="12.00" height="4.50" fill="#9c9c9c" stroke="#1c1c1c" stroke-width="1.0"/>
<text transform="translate(122.00,148.80) scale(0.536,1)" font-size="10.5" text-anchor="start" font-weight="400" fill="#222" stroke="#222" stroke-width="0.45" vector-effect="non-scaling-stroke" class="l">FU</text>
<line x1="131.00" y1="153.70" x2="140.60" y2="153.70" stroke="#1c1c1c" stroke-width="1.1" />
<line x1="140.60" y1="153.70" x2="140.60" y2="149.20" stroke="#1c1c1c" stroke-width="1.1" />
<path d="M139.4,148.6 L143.2,151.2 Q145.2,153.2 148,153.70 L158,153.90" fill="none" stroke="#1c1c1c" stroke-width="1.1"/>
<polyline points="137.50,142.60 141.00,142.60 141.00,146.00 145.00,146.00 145.00,142.60 148.80,142.60" fill="none" stroke="#1c1c1c" stroke-width="1.1" stroke-linejoin="miter" />
<line x1="143.00" y1="146.00" x2="143.00" y2="151.00" stroke="#1c1c1c" stroke-width="1.1" />
<text transform="translate(139.50,138.70) scale(0.475,1)" font-size="10.5" text-anchor="start" font-weight="400" fill="#222" stroke="#222" stroke-width="0.45" vector-effect="non-scaling-stroke" class="l">KH</text>
<line x1="158.40" y1="157.30" x2="165.00" y2="153.70" stroke="#1c1c1c" stroke-width="1.1" />
<line x1="165.00" y1="153.70" x2="193.00" y2="153.70" stroke="#1c1c1c" stroke-width="1.1" />
<polyline points="159.30,162.80 160.80,160.60 162.40,161.60 163.60,159.60" fill="none" stroke="#1c1c1c" stroke-width="1.0" stroke-linejoin="miter" />
<text transform="translate(157.00,149.30) scale(0.544,1)" font-size="10.5" text-anchor="start" font-weight="400" fill="#222" stroke="#222" stroke-width="0.45" vector-effect="non-scaling-stroke" class="l">QC1</text>
<line x1="193.30" y1="157.50" x2="200.30" y2="153.70" stroke="#1c1c1c" stroke-width="1.1" />
<line x1="200.30" y1="153.70" x2="214.30" y2="153.70" stroke="#1c1c1c" stroke-width="1.1" />
<text transform="translate(191.00,149.30) scale(0.544,1)" font-size="10.5" text-anchor="start" font-weight="400" fill="#222" stroke="#222" stroke-width="0.45" vector-effect="non-scaling-stroke" class="l">QC2</text>
<line x1="196.60" y1="157.00" x2="196.60" y2="182.50" stroke="#1c1c1c" stroke-width="1.0" stroke-dasharray="7,2"/>
<line x1="213.80" y1="153.70" x2="213.80" y2="150.00" stroke="#1c1c1c" stroke-width="1.1" />
<line x1="212.20" y1="149.00" x2="220.00" y2="153.70" stroke="#1c1c1c" stroke-width="1.1" />
<line x1="220.00" y1="153.70" x2="236.50" y2="153.70" stroke="#1c1c1c" stroke-width="1.1" />
<line x1="216.30" y1="151.80" x2="216.30" y2="155.00" stroke="#1c1c1c" stroke-width="0.7" />
<polyline points="214.10,155.20 214.40,157.30 218.50,157.30 218.80,155.20" fill="none" stroke="#1c1c1c" stroke-width="1.0" stroke-linejoin="miter" />
<line x1="216.45" y1="155.40" x2="216.45" y2="157.30" stroke="#1c1c1c" stroke-width="0.9" />
<text transform="translate(212.70,144.60) scale(0.617,1)" font-size="10.5" text-anchor="start" font-weight="400" fill="#222" stroke="#222" stroke-width="0.45" vector-effect="non-scaling-stroke" class="l">SS</text>
<line x1="236.80" y1="157.60" x2="243.60" y2="153.70" stroke="#1c1c1c" stroke-width="1.1" />
<line x1="240.10" y1="156.00" x2="240.10" y2="157.30" stroke="#1c1c1c" stroke-width="0.8" />
<polyline points="237.90,159.70 238.20,161.80 242.30,161.80 242.60,159.70" fill="none" stroke="#1c1c1c" stroke-width="1.0" stroke-linejoin="miter" />
<line x1="240.25" y1="159.90" x2="240.25" y2="161.80" stroke="#1c1c1c" stroke-width="0.9" />
<line x1="243.60" y1="153.70" x2="273.80" y2="153.70" stroke="#1c1c1c" stroke-width="1.1" />
<text transform="translate(236.80,149.60) scale(0.536,1)" font-size="10.5" text-anchor="start" font-weight="400" fill="#222" stroke="#222" stroke-width="0.45" vector-effect="non-scaling-stroke" class="l">SO</text>
<line x1="273.80" y1="153.70" x2="273.80" y2="149.70" stroke="#1c1c1c" stroke-width="1.1" />
<line x1="272.60" y1="148.90" x2="281.40" y2="153.70" stroke="#1c1c1c" stroke-width="1.1" />
<line x1="281.40" y1="153.70" x2="292.40" y2="153.70" stroke="#1c1c1c" stroke-width="1.1" />
<rect x="292.40" y="148.60" width="7.60" height="10.40" fill="none" stroke="#1c1c1c" stroke-width="1.0"/>
<line x1="300.00" y1="153.70" x2="315.40" y2="153.70" stroke="#1c1c1c" stroke-width="1.1" />
<text transform="translate(273.60,143.60) scale(0.494,1)" font-size="10.5" text-anchor="start" font-weight="400" fill="#222" stroke="#222" stroke-width="0.45" vector-effect="non-scaling-stroke" class="l">KC</text>
<text transform="translate(292.40,143.60) scale(0.475,1)" font-size="10.5" text-anchor="start" font-weight="400" fill="#222" stroke="#222" stroke-width="0.45" vector-effect="non-scaling-stroke" class="l">KO</text>
<line x1="315.40" y1="153.70" x2="335.40" y2="153.70" stroke="#1c1c1c" stroke-width="1.1" />
<line x1="335.40" y1="153.70" x2="335.40" y2="149.10" stroke="#1c1c1c" stroke-width="1.1" />
<line x1="334.40" y1="148.30" x2="342.40" y2="153.70" stroke="#1c1c1c" stroke-width="1.1" />
<path d="M338.60,153.70 L342.40,153.70 L339.40,151.50 Z" fill="#1c1c1c" stroke="#1c1c1c" stroke-width="0.6"/>
<line x1="338.60" y1="153.70" x2="374.20" y2="153.70" stroke="#1c1c1c" stroke-width="1.1" />
<line x1="374.20" y1="153.70" x2="374.20" y2="149.10" stroke="#1c1c1c" stroke-width="1.1" />
<line x1="373.20" y1="148.30" x2="381.20" y2="153.70" stroke="#1c1c1c" stroke-width="1.1" />
<path d="M377.40,153.70 L381.20,153.70 L378.20,151.50 Z" fill="#1c1c1c" stroke="#1c1c1c" stroke-width="0.6"/>
<line x1="377.40" y1="153.70" x2="401.60" y2="153.70" stroke="#1c1c1c" stroke-width="1.1" />
<text transform="translate(322.80,151.40) scale(0.686,1)" font-size="10.5" text-anchor="start" font-weight="400" fill="#222" stroke="#222" stroke-width="0.45" vector-effect="non-scaling-stroke" class="l">4</text>
<text transform="translate(343.70,151.60) scale(0.617,1)" font-size="10.5" text-anchor="start" font-weight="400" fill="#222" stroke="#222" stroke-width="0.45" vector-effect="non-scaling-stroke" class="l">SL1</text>
<text transform="translate(382.00,151.60) scale(0.550,1)" font-size="10.5" text-anchor="start" font-weight="400" fill="#222" stroke="#222" stroke-width="0.45" vector-effect="non-scaling-stroke" class="l">STO</text>
<line x1="179.30" y1="153.70" x2="179.30" y2="236.60" stroke="#1c1c1c" stroke-width="1.1" />
<line x1="227.50" y1="153.70" x2="227.50" y2="220.30" stroke="#1c1c1c" stroke-width="1.1" />
<line x1="253.60" y1="153.70" x2="253.60" y2="170.50" stroke="#1c1c1c" stroke-width="1.1" />
<line x1="253.60" y1="203.60" x2="253.60" y2="220.30" stroke="#1c1c1c" stroke-width="1.1" />
<line x1="227.50" y1="170.50" x2="236.20" y2="170.50" stroke="#1c1c1c" stroke-width="1.1" />
<line x1="236.80" y1="174.40" x2="243.60" y2="170.50" stroke="#1c1c1c" stroke-width="1.1" />
<line x1="243.60" y1="170.50" x2="338.00" y2="170.50" stroke="#1c1c1c" stroke-width="1.1" />
<text transform="translate(236.80,182.40) scale(0.475,1)" font-size="10.5" text-anchor="start" font-weight="400" fill="#222" stroke="#222" stroke-width="0.45" vector-effect="non-scaling-stroke" class="l">KO</text>
<line x1="338.00" y1="174.40" x2="344.80" y2="170.50" stroke="#1c1c1c" stroke-width="1.1" />
<line x1="341.30" y1="172.80" x2="341.30" y2="174.10" stroke="#1c1c1c" stroke-width="0.8" />
<polyline points="339.10,176.50 339.40,178.60 343.50,178.60 343.80,176.50" fill="none" stroke="#1c1c1c" stroke-width="1.0" stroke-linejoin="miter" />
<line x1="341.45" y1="176.70" x2="341.45" y2="178.60" stroke="#1c1c1c" stroke-width="0.9" />
<polyline points="344.80,170.50 362.80,170.50 362.80,203.60 344.80,203.60" fill="none" stroke="#1c1c1c" stroke-width="1.1" stroke-linejoin="miter" />
<text transform="translate(322.80,168.20) scale(0.686,1)" font-size="10.5" text-anchor="start" font-weight="400" fill="#222" stroke="#222" stroke-width="0.45" vector-effect="non-scaling-stroke" class="l">9</text>
<text transform="translate(347.00,180.80) scale(0.529,1)" font-size="10.5" text-anchor="start" font-weight="400" fill="#222" stroke="#222" stroke-width="0.45" vector-effect="non-scaling-stroke" class="l">SBO</text>
<line x1="179.30" y1="187.30" x2="192.30" y2="187.30" stroke="#1c1c1c" stroke-width="1.1" />
<line x1="194.20" y1="187.30" x2="194.20" y2="183.30" stroke="#1c1c1c" stroke-width="1.1" />
<line x1="193.00" y1="182.50" x2="201.80" y2="187.30" stroke="#1c1c1c" stroke-width="1.1" />
<line x1="192.30" y1="187.30" x2="194.20" y2="187.30" stroke="#1c1c1c" stroke-width="1.1" />
<line x1="201.80" y1="187.30" x2="362.80" y2="187.30" stroke="#1c1c1c" stroke-width="1.1" />
<line x1="196.60" y1="188.50" x2="196.60" y2="194.30" stroke="#1c1c1c" stroke-width="1.0" />
<polyline points="192.30,195.60 192.30,194.30 200.50,194.30 200.50,193.00" fill="none" stroke="#1c1c1c" stroke-width="1.0" stroke-linejoin="miter" />
<text transform="translate(322.00,182.20) scale(0.686,1)" font-size="10.5" text-anchor="start" font-weight="400" fill="#222" stroke="#222" stroke-width="0.45" vector-effect="non-scaling-stroke" class="l">13</text>
<line x1="227.50" y1="203.60" x2="236.20" y2="203.60" stroke="#1c1c1c" stroke-width="1.1" />
<line x1="236.80" y1="207.50" x2="243.60" y2="203.60" stroke="#1c1c1c" stroke-width="1.1" />
<line x1="243.60" y1="203.60" x2="338.00" y2="203.60" stroke="#1c1c1c" stroke-width="1.1" />
<text transform="translate(236.80,199.00) scale(0.494,1)" font-size="10.5" text-anchor="start" font-weight="400" fill="#222" stroke="#222" stroke-width="0.45" vector-effect="non-scaling-stroke" class="l">KC</text>
<line x1="338.00" y1="207.50" x2="344.80" y2="203.60" stroke="#1c1c1c" stroke-width="1.1" />
<line x1="341.30" y1="205.90" x2="341.30" y2="207.20" stroke="#1c1c1c" stroke-width="0.8" />
<polyline points="339.10,209.60 339.40,211.70 343.50,211.70 343.80,209.60" fill="none" stroke="#1c1c1c" stroke-width="1.0" stroke-linejoin="miter" />
<line x1="341.45" y1="209.80" x2="341.45" y2="211.70" stroke="#1c1c1c" stroke-width="0.9" />
<text transform="translate(322.00,199.00) scale(0.686,1)" font-size="10.5" text-anchor="start" font-weight="400" fill="#222" stroke="#222" stroke-width="0.45" vector-effect="non-scaling-stroke" class="l">15</text>
<text transform="translate(347.00,199.30) scale(0.544,1)" font-size="10.5" text-anchor="start" font-weight="400" fill="#222" stroke="#222" stroke-width="0.45" vector-effect="non-scaling-stroke" class="l">SBC</text>
<line x1="227.50" y1="220.30" x2="236.20" y2="220.30" stroke="#1c1c1c" stroke-width="1.1" />
<line x1="236.80" y1="224.20" x2="243.60" y2="220.30" stroke="#1c1c1c" stroke-width="1.1" />
<line x1="240.10" y1="222.60" x2="240.10" y2="223.90" stroke="#1c1c1c" stroke-width="0.8" />
<polyline points="237.90,226.30 238.20,228.40 242.30,228.40 242.60,226.30" fill="none" stroke="#1c1c1c" stroke-width="1.0" stroke-linejoin="miter" />
<line x1="240.25" y1="226.50" x2="240.25" y2="228.40" stroke="#1c1c1c" stroke-width="0.9" />
<line x1="243.60" y1="220.30" x2="273.80" y2="220.30" stroke="#1c1c1c" stroke-width="1.1" />
<text transform="translate(236.80,217.60) scale(0.561,1)" font-size="10.5" text-anchor="start" font-weight="400" fill="#222" stroke="#222" stroke-width="0.45" vector-effect="non-scaling-stroke" class="l">SC</text>
<line x1="273.80" y1="220.30" x2="273.80" y2="216.30" stroke="#1c1c1c" stroke-width="1.1" />
<line x1="272.60" y1="215.50" x2="281.40" y2="220.30" stroke="#1c1c1c" stroke-width="1.1" />
<line x1="281.40" y1="220.30" x2="292.40" y2="220.30" stroke="#1c1c1c" stroke-width="1.1" />
<rect x="292.40" y="215.00" width="7.60" height="10.60" fill="none" stroke="#1c1c1c" stroke-width="1.0"/>
<line x1="300.00" y1="220.30" x2="315.40" y2="220.30" stroke="#1c1c1c" stroke-width="1.1" />
<text transform="translate(273.60,231.00) scale(0.475,1)" font-size="10.5" text-anchor="start" font-weight="400" fill="#222" stroke="#222" stroke-width="0.45" vector-effect="non-scaling-stroke" class="l">KO</text>
<text transform="translate(292.40,211.60) scale(0.494,1)" font-size="10.5" text-anchor="start" font-weight="400" fill="#222" stroke="#222" stroke-width="0.45" vector-effect="non-scaling-stroke" class="l">KC</text>
<line x1="315.40" y1="220.30" x2="335.40" y2="220.30" stroke="#1c1c1c" stroke-width="1.1" />
<line x1="335.40" y1="220.30" x2="335.40" y2="215.70" stroke="#1c1c1c" stroke-width="1.1" />
<line x1="334.40" y1="214.90" x2="342.40" y2="220.30" stroke="#1c1c1c" stroke-width="1.1" />
<path d="M338.60,220.30 L342.40,220.30 L339.40,218.10 Z" fill="#1c1c1c" stroke="#1c1c1c" stroke-width="0.6"/>
<line x1="338.60" y1="220.30" x2="374.20" y2="220.30" stroke="#1c1c1c" stroke-width="1.1" />
<line x1="374.20" y1="220.30" x2="374.20" y2="215.70" stroke="#1c1c1c" stroke-width="1.1" />
<line x1="373.20" y1="214.90" x2="381.20" y2="220.30" stroke="#1c1c1c" stroke-width="1.1" />
<path d="M377.40,220.30 L381.20,220.30 L378.20,218.10 Z" fill="#1c1c1c" stroke="#1c1c1c" stroke-width="0.6"/>
<line x1="377.40" y1="220.30" x2="401.60" y2="220.30" stroke="#1c1c1c" stroke-width="1.1" />
<text transform="translate(322.80,218.00) scale(0.686,1)" font-size="10.5" text-anchor="start" font-weight="400" fill="#222" stroke="#222" stroke-width="0.45" vector-effect="non-scaling-stroke" class="l">8</text>
<text transform="translate(345.60,218.00) scale(0.617,1)" font-size="10.5" text-anchor="start" font-weight="400" fill="#222" stroke="#222" stroke-width="0.45" vector-effect="non-scaling-stroke" class="l">SL2</text>
<text transform="translate(382.00,218.00) scale(0.561,1)" font-size="10.5" text-anchor="start" font-weight="400" fill="#222" stroke="#222" stroke-width="0.45" vector-effect="non-scaling-stroke" class="l">STC</text>
<line x1="401.60" y1="121.70" x2="401.60" y2="236.80" stroke="#1c1c1c" stroke-width="1.1" />
<line x1="179.30" y1="236.60" x2="247.00" y2="236.60" stroke="#1c1c1c" stroke-width="1.1" />
<path d="M247,236.6 a4.62,5.2 0 0 0 9.25,0 a4.62,5.2 0 0 0 9.25,0 a4.62,5.2 0 0 0 9.25,0 a4.62,5.2 0 0 0 9.25,0" fill="none" stroke="#1c1c1c" stroke-width="1.1"/>
<line x1="284.00" y1="236.60" x2="401.60" y2="236.60" stroke="#1c1c1c" stroke-width="1.1" />
<line x1="179.30" y1="253.60" x2="257.00" y2="253.60" stroke="#1c1c1c" stroke-width="1.1" />
<path d="M257,253.6 a4.65,5 0 0 1 9.3,0 a4.65,5 0 0 1 9.3,0" fill="none" stroke="#1c1c1c" stroke-width="1.1"/>
<line x1="275.60" y1="253.60" x2="401.60" y2="253.60" stroke="#1c1c1c" stroke-width="1.1" />
<text transform="translate(286.40,249.00) scale(0.561,1)" font-size="10.5" text-anchor="start" font-weight="400" fill="#222" stroke="#222" stroke-width="0.45" vector-effect="non-scaling-stroke" class="l">T</text>
<line x1="179.30" y1="253.60" x2="179.30" y2="370.00" stroke="#1c1c1c" stroke-width="1.1" />
<line x1="401.60" y1="253.60" x2="401.60" y2="346.00" stroke="#1c1c1c" stroke-width="1.1" />
<line x1="179.30" y1="270.20" x2="315.40" y2="270.20" stroke="#1c1c1c" stroke-width="1.1" />
<circle cx="239.60" cy="270.20" r="4.7" fill="#fff" stroke="#1c1c1c" stroke-width="1.0"/>
<line x1="236.30" y1="266.90" x2="242.90" y2="273.50" stroke="#1c1c1c" stroke-width="1.1" />
<line x1="236.30" y1="273.50" x2="242.90" y2="266.90" stroke="#1c1c1c" stroke-width="1.1" />
<text transform="translate(246.00,267.80) scale(0.412,1)" font-size="10.5" text-anchor="start" font-weight="400" fill="#222" stroke="#222" stroke-width="0.45" vector-effect="non-scaling-stroke" class="l">HW</text>
<line x1="179.30" y1="286.80" x2="315.40" y2="286.80" stroke="#1c1c1c" stroke-width="1.1" />
<circle cx="239.60" cy="286.80" r="4.7" fill="#fff" stroke="#1c1c1c" stroke-width="1.0"/>
<line x1="236.30" y1="283.50" x2="242.90" y2="290.10" stroke="#1c1c1c" stroke-width="1.1" />
<line x1="236.30" y1="290.10" x2="242.90" y2="283.50" stroke="#1c1c1c" stroke-width="1.1" />
<text transform="translate(246.00,284.40) scale(0.494,1)" font-size="10.5" text-anchor="start" font-weight="400" fill="#222" stroke="#222" stroke-width="0.45" vector-effect="non-scaling-stroke" class="l">HR</text>
<line x1="179.30" y1="303.40" x2="315.40" y2="303.40" stroke="#1c1c1c" stroke-width="1.1" />
<circle cx="239.60" cy="303.40" r="4.7" fill="#fff" stroke="#1c1c1c" stroke-width="1.0"/>
<line x1="236.30" y1="300.10" x2="242.90" y2="306.70" stroke="#1c1c1c" stroke-width="1.1" />
<line x1="236.30" y1="306.70" x2="242.90" y2="300.10" stroke="#1c1c1c" stroke-width="1.1" />
<text transform="translate(246.00,301.00) scale(0.475,1)" font-size="10.5" text-anchor="start" font-weight="400" fill="#222" stroke="#222" stroke-width="0.45" vector-effect="non-scaling-stroke" class="l">HG</text>
<line x1="179.30" y1="320.10" x2="315.40" y2="320.10" stroke="#1c1c1c" stroke-width="1.1" />
<circle cx="239.60" cy="320.10" r="4.7" fill="#fff" stroke="#1c1c1c" stroke-width="1.0"/>
<line x1="236.30" y1="316.80" x2="242.90" y2="323.40" stroke="#1c1c1c" stroke-width="1.1" />
<line x1="236.30" y1="323.40" x2="242.90" y2="316.80" stroke="#1c1c1c" stroke-width="1.1" />
<text transform="translate(246.00,317.70) scale(0.475,1)" font-size="10.5" text-anchor="start" font-weight="400" fill="#222" stroke="#222" stroke-width="0.45" vector-effect="non-scaling-stroke" class="l">HY</text>
<line x1="315.40" y1="270.20" x2="401.60" y2="270.20" stroke="#1c1c1c" stroke-width="1.1" />
<line x1="315.40" y1="286.80" x2="356.30" y2="286.80" stroke="#1c1c1c" stroke-width="1.1" />
<line x1="356.40" y1="292.60" x2="365.60" y2="286.80" stroke="#1c1c1c" stroke-width="1.1" />
<polyline points="356.40,292.60 359.90,294.40 363.00,288.40" fill="none" stroke="#1c1c1c" stroke-width="0.9" stroke-linejoin="miter" />
<line x1="365.60" y1="286.80" x2="401.60" y2="286.80" stroke="#1c1c1c" stroke-width="1.1" />
<text transform="translate(367.50,284.40) scale(0.617,1)" font-size="10.5" text-anchor="start" font-weight="400" fill="#222" stroke="#222" stroke-width="0.45" vector-effect="non-scaling-stroke" class="l">SL1</text>
<line x1="315.40" y1="303.40" x2="356.30" y2="303.40" stroke="#1c1c1c" stroke-width="1.1" />
<line x1="356.40" y1="309.20" x2="365.60" y2="303.40" stroke="#1c1c1c" stroke-width="1.1" />
<polyline points="356.40,309.20 359.90,311.00 363.00,305.00" fill="none" stroke="#1c1c1c" stroke-width="0.9" stroke-linejoin="miter" />
<line x1="365.60" y1="303.40" x2="401.60" y2="303.40" stroke="#1c1c1c" stroke-width="1.1" />
<text transform="translate(367.50,301.00) scale(0.617,1)" font-size="10.5" text-anchor="start" font-weight="400" fill="#222" stroke="#222" stroke-width="0.45" vector-effect="non-scaling-stroke" class="l">SL2</text>
<line x1="315.40" y1="320.10" x2="359.30" y2="320.10" stroke="#1c1c1c" stroke-width="1.1" />
<line x1="356.40" y1="325.90" x2="365.60" y2="320.10" stroke="#1c1c1c" stroke-width="1.1" />
<polyline points="356.40,325.90 359.90,327.70 363.00,321.70" fill="none" stroke="#1c1c1c" stroke-width="0.9" stroke-linejoin="miter" />
<line x1="365.60" y1="320.10" x2="401.60" y2="320.10" stroke="#1c1c1c" stroke-width="1.1" />
<text transform="translate(367.50,317.70) scale(0.550,1)" font-size="10.5" text-anchor="start" font-weight="400" fill="#222" stroke="#222" stroke-width="0.45" vector-effect="non-scaling-stroke" class="l">STO</text>
<polyline points="315.40,320.10 315.40,336.70 357.80,336.70" fill="none" stroke="#1c1c1c" stroke-width="1.1" stroke-linejoin="miter" />
<line x1="356.40" y1="342.50" x2="365.60" y2="336.70" stroke="#1c1c1c" stroke-width="1.1" />
<polyline points="356.40,342.50 359.90,344.30 363.00,338.30" fill="none" stroke="#1c1c1c" stroke-width="0.9" stroke-linejoin="miter" />
<line x1="365.60" y1="336.70" x2="401.60" y2="336.70" stroke="#1c1c1c" stroke-width="1.1" />
<text transform="translate(367.50,334.10) scale(0.561,1)" font-size="10.5" text-anchor="start" font-weight="400" fill="#222" stroke="#222" stroke-width="0.45" vector-effect="non-scaling-stroke" class="l">STC</text>
<text transform="translate(322.00,267.80) scale(0.686,1)" font-size="10.5" text-anchor="start" font-weight="400" fill="#222" stroke="#222" stroke-width="0.45" vector-effect="non-scaling-stroke" class="l">10</text>
<text transform="translate(322.00,284.40) scale(0.686,1)" font-size="10.5" text-anchor="start" font-weight="400" fill="#222" stroke="#222" stroke-width="0.45" vector-effect="non-scaling-stroke" class="l">12</text>
<text transform="translate(322.00,301.00) scale(0.686,1)" font-size="10.5" text-anchor="start" font-weight="400" fill="#222" stroke="#222" stroke-width="0.45" vector-effect="non-scaling-stroke" class="l">14</text>
<text transform="translate(322.00,317.70) scale(0.686,1)" font-size="10.5" text-anchor="start" font-weight="400" fill="#222" stroke="#222" stroke-width="0.45" vector-effect="non-scaling-stroke" class="l">16</text>
<line x1="179.30" y1="353.50" x2="315.40" y2="353.50" stroke="#1c1c1c" stroke-width="1.1" />
<circle cx="213.00" cy="353.50" r="5.5" fill="#fff" stroke="#1c1c1c" stroke-width="1.0"/>
<text transform="translate(213.00,356.70) scale(0.554,1)" font-size="10" text-anchor="middle" font-weight="400" fill="#222" stroke="#222" stroke-width="0.45" vector-effect="non-scaling-stroke" class="l">V</text>
<text transform="translate(209.00,345.40) scale(0.791,1)" font-size="10.5" text-anchor="start" font-weight="400" fill="#222" stroke="#222" stroke-width="0.45" vector-effect="non-scaling-stroke" class="l">Idc</text>
<rect x="236.00" y="351.60" width="12.00" height="3.80" fill="#fff" stroke="#1c1c1c" stroke-width="1.0"/>
<text transform="translate(240.00,348.80) scale(0.514,1)" font-size="10.5" text-anchor="start" font-weight="400" fill="#222" stroke="#222" stroke-width="0.45" vector-effect="non-scaling-stroke" class="l">R</text>
<rect x="267.60" y="351.60" width="11.60" height="3.80" fill="#fff" stroke="#1c1c1c" stroke-width="1.0"/>
<text transform="translate(270.00,363.80) scale(0.597,1)" font-size="10.5" text-anchor="start" font-weight="400" fill="#222" stroke="#222" stroke-width="0.45" vector-effect="non-scaling-stroke" class="l">RP2</text>
<polyline points="274.00,351.20 274.00,343.60 302.00,343.60 302.00,353.50" fill="none" stroke="#1c1c1c" stroke-width="1.1" stroke-linejoin="miter" />
<polyline points="272.20,348.20 274.00,351.40 275.80,348.20" fill="none" stroke="#1c1c1c" stroke-width="0.9" stroke-linejoin="miter" />
<line x1="315.40" y1="353.50" x2="399.00" y2="353.50" stroke="#1c1c1c" stroke-width="1.1" />
<polyline points="393.50,351.20 399.20,353.50 393.50,355.80" fill="none" stroke="#1c1c1c" stroke-width="0.9" stroke-linejoin="miter" />
<rect x="399.50" y="346.00" width="4.10" height="11.30" fill="#fff" stroke="#1c1c1c" stroke-width="1.0"/>
<polyline points="401.60,357.30 401.60,370.00 179.30,370.00" fill="none" stroke="#1c1c1c" stroke-width="1.1" stroke-linejoin="miter" />
<text transform="translate(387.80,365.40) scale(0.597,1)" font-size="10.5" text-anchor="start" font-weight="400" fill="#222" stroke="#222" stroke-width="0.45" vector-effect="non-scaling-stroke" class="l">RP1</text>
<text transform="translate(322.00,350.80) scale(0.686,1)" font-size="10.5" text-anchor="start" font-weight="400" fill="#222" stroke="#222" stroke-width="0.45" vector-effect="non-scaling-stroke" class="l">20</text>
<text transform="translate(322.00,367.40) scale(0.686,1)" font-size="10.5" text-anchor="start" font-weight="400" fill="#222" stroke="#222" stroke-width="0.45" vector-effect="non-scaling-stroke" class="l">19</text>
<line x1="314.80" y1="391.20" x2="358.50" y2="391.20" stroke="#1c1c1c" stroke-width="1.1" />
<line x1="358.50" y1="391.20" x2="358.50" y2="386.60" stroke="#1c1c1c" stroke-width="1.1" />
<line x1="357.50" y1="385.80" x2="365.50" y2="391.20" stroke="#1c1c1c" stroke-width="1.1" />
<path d="M361.70,391.20 L365.50,391.20 L362.50,389.00 Z" fill="#1c1c1c" stroke="#1c1c1c" stroke-width="0.6"/>
<line x1="361.70" y1="391.20" x2="400.60" y2="391.20" stroke="#1c1c1c" stroke-width="1.1" />
<line x1="314.80" y1="407.60" x2="356.20" y2="407.60" stroke="#1c1c1c" stroke-width="1.1" />
<line x1="356.40" y1="413.40" x2="365.60" y2="407.60" stroke="#1c1c1c" stroke-width="1.1" />
<polyline points="356.40,413.40 359.90,415.20 363.00,409.20" fill="none" stroke="#1c1c1c" stroke-width="0.9" stroke-linejoin="miter" />
<line x1="365.60" y1="407.60" x2="400.60" y2="407.60" stroke="#1c1c1c" stroke-width="1.1" />
<line x1="314.80" y1="424.30" x2="400.60" y2="424.30" stroke="#1c1c1c" stroke-width="1.1" />
<line x1="400.60" y1="391.20" x2="400.60" y2="424.30" stroke="#1c1c1c" stroke-width="1.1" />
<line x1="314.80" y1="443.00" x2="358.50" y2="443.00" stroke="#1c1c1c" stroke-width="1.1" />
<line x1="358.50" y1="443.00" x2="358.50" y2="438.40" stroke="#1c1c1c" stroke-width="1.1" />
<line x1="357.50" y1="437.60" x2="365.50" y2="443.00" stroke="#1c1c1c" stroke-width="1.1" />
<path d="M361.70,443.00 L365.50,443.00 L362.50,440.80 Z" fill="#1c1c1c" stroke="#1c1c1c" stroke-width="0.6"/>
<line x1="361.70" y1="443.00" x2="400.60" y2="443.00" stroke="#1c1c1c" stroke-width="1.1" />
<line x1="314.80" y1="460.00" x2="356.20" y2="460.00" stroke="#1c1c1c" stroke-width="1.1" />
<line x1="356.40" y1="465.80" x2="365.60" y2="460.00" stroke="#1c1c1c" stroke-width="1.1" />
<polyline points="356.40,465.80 359.90,467.60 363.00,461.60" fill="none" stroke="#1c1c1c" stroke-width="0.9" stroke-linejoin="miter" />
<line x1="365.60" y1="460.00" x2="400.60" y2="460.00" stroke="#1c1c1c" stroke-width="1.1" />
<line x1="314.80" y1="476.30" x2="400.60" y2="476.30" stroke="#1c1c1c" stroke-width="1.1" />
<line x1="400.60" y1="443.00" x2="400.60" y2="476.30" stroke="#1c1c1c" stroke-width="1.1" />
<text transform="translate(301.20,394.40) scale(0.686,1)" font-size="10.5" text-anchor="start" font-weight="400" fill="#222" stroke="#222" stroke-width="0.45" vector-effect="non-scaling-stroke" class="l">1</text>
<text transform="translate(301.20,410.80) scale(0.686,1)" font-size="10.5" text-anchor="start" font-weight="400" fill="#222" stroke="#222" stroke-width="0.45" vector-effect="non-scaling-stroke" class="l">2</text>
<text transform="translate(301.20,427.50) scale(0.686,1)" font-size="10.5" text-anchor="start" font-weight="400" fill="#222" stroke="#222" stroke-width="0.45" vector-effect="non-scaling-stroke" class="l">3</text>
<text transform="translate(301.20,446.20) scale(0.686,1)" font-size="10.5" text-anchor="start" font-weight="400" fill="#222" stroke="#222" stroke-width="0.45" vector-effect="non-scaling-stroke" class="l">5</text>
<text transform="translate(301.20,463.20) scale(0.686,1)" font-size="10.5" text-anchor="start" font-weight="400" fill="#222" stroke="#222" stroke-width="0.45" vector-effect="non-scaling-stroke" class="l">6</text>
<text transform="translate(301.20,479.50) scale(0.686,1)" font-size="10.5" text-anchor="start" font-weight="400" fill="#222" stroke="#222" stroke-width="0.45" vector-effect="non-scaling-stroke" class="l">7</text>
<text transform="translate(367.80,388.40) scale(0.617,1)" font-size="10.5" text-anchor="start" font-weight="400" fill="#222" stroke="#222" stroke-width="0.45" vector-effect="non-scaling-stroke" class="l">SL3</text>
<text transform="translate(367.80,404.90) scale(0.617,1)" font-size="10.5" text-anchor="start" font-weight="400" fill="#222" stroke="#222" stroke-width="0.45" vector-effect="non-scaling-stroke" class="l">SL3</text>
<text transform="translate(367.80,440.00) scale(0.617,1)" font-size="10.5" text-anchor="start" font-weight="400" fill="#222" stroke="#222" stroke-width="0.45" vector-effect="non-scaling-stroke" class="l">SL4</text>
<text transform="translate(367.80,457.30) scale(0.617,1)" font-size="10.5" text-anchor="start" font-weight="400" fill="#222" stroke="#222" stroke-width="0.45" vector-effect="non-scaling-stroke" class="l">SL4</text>
<text transform="translate(242.00,411.00) scale(0.760,1)" font-size="9.5" text-anchor="start" font-weight="700" fill="#222" stroke="#222" stroke-width="0.2" class="c">开到位行程触点</text>
<text transform="translate(242.00,463.00) scale(0.760,1)" font-size="9.5" text-anchor="start" font-weight="700" fill="#222" stroke="#222" stroke-width="0.2" class="c">关到位行程触点</text>
<text transform="translate(238.80,509.50) scale(0.760,1)" font-size="9.5" text-anchor="start" font-weight="700" fill="#222" stroke="#222" stroke-width="0.2" class="c">控制器接线</text>
<text transform="translate(353.80,509.50) scale(0.760,1)" font-size="9.5" text-anchor="start" font-weight="700" fill="#222" stroke="#222" stroke-width="0.2" class="c">电装内部接线</text>
<line x1="284.00" y1="505.80" x2="344.00" y2="505.80" stroke="#1c1c1c" stroke-width="1.1" />
<path d="M279.5,505.8 L289.5,504.2 L289.5,507.4 Z" fill="#1c1c1c" stroke="#1c1c1c" stroke-width="0.5"/>
<path d="M348,505.8 L338,504.2 L338,507.4 Z" fill="#1c1c1c" stroke="#1c1c1c" stroke-width="0.5"/>
<line x1="314.60" y1="500.00" x2="314.60" y2="512.00" stroke="#1c1c1c" stroke-width="1.1" />
<circle cx="263.80" cy="71.70" r="2.0" fill="#fff" stroke="#1c1c1c" stroke-width="1.1"/>
<circle cx="263.80" cy="88.60" r="2.0" fill="#fff" stroke="#1c1c1c" stroke-width="1.1"/>
<circle cx="263.80" cy="105.40" r="2.0" fill="#fff" stroke="#1c1c1c" stroke-width="1.1"/>
<circle cx="263.80" cy="71.70" r="2.0" fill="#fff" stroke="#1c1c1c" stroke-width="1.1"/>
<circle cx="263.80" cy="88.60" r="2.0" fill="#fff" stroke="#1c1c1c" stroke-width="1.1"/>
<circle cx="263.80" cy="105.40" r="2.0" fill="#fff" stroke="#1c1c1c" stroke-width="1.1"/>
<circle cx="149.50" cy="71.70" r="2.0" fill="#fff" stroke="#1c1c1c" stroke-width="1.1"/>
<circle cx="172.00" cy="88.60" r="2.0" fill="#fff" stroke="#1c1c1c" stroke-width="1.1"/>
<circle cx="160.80" cy="105.40" r="2.0" fill="#fff" stroke="#1c1c1c" stroke-width="1.1"/>
<circle cx="110.00" cy="105.40" r="2.0" fill="#fff" stroke="#1c1c1c" stroke-width="1.1"/>
<circle cx="315.40" cy="71.70" r="2.2" fill="#d0d0d0" stroke="#363636" stroke-width="2.15"/>
<circle cx="315.40" cy="88.60" r="2.2" fill="#d0d0d0" stroke="#363636" stroke-width="2.15"/>
<circle cx="315.40" cy="105.40" r="2.2" fill="#d0d0d0" stroke="#363636" stroke-width="2.15"/>
<circle cx="315.40" cy="121.70" r="2.2" fill="#d0d0d0" stroke="#363636" stroke-width="2.15"/>
<circle cx="179.30" cy="153.70" r="2.0" fill="#fff" stroke="#1c1c1c" stroke-width="1.1"/>
<circle cx="227.50" cy="153.70" r="2.0" fill="#fff" stroke="#1c1c1c" stroke-width="1.1"/>
<circle cx="253.60" cy="153.70" r="2.0" fill="#fff" stroke="#1c1c1c" stroke-width="1.1"/>
<circle cx="227.50" cy="170.50" r="2.0" fill="#fff" stroke="#1c1c1c" stroke-width="1.1"/>
<circle cx="253.60" cy="170.50" r="2.0" fill="#fff" stroke="#1c1c1c" stroke-width="1.1"/>
<circle cx="179.30" cy="187.30" r="2.0" fill="#fff" stroke="#1c1c1c" stroke-width="1.1"/>
<circle cx="362.80" cy="187.30" r="2.0" fill="#fff" stroke="#1c1c1c" stroke-width="1.1"/>
<circle cx="227.50" cy="203.60" r="2.0" fill="#fff" stroke="#1c1c1c" stroke-width="1.1"/>
<circle cx="253.60" cy="203.60" r="2.0" fill="#fff" stroke="#1c1c1c" stroke-width="1.1"/>
<circle cx="253.60" cy="220.30" r="2.0" fill="#fff" stroke="#1c1c1c" stroke-width="1.1"/>
<circle cx="315.40" cy="153.70" r="2.2" fill="#d0d0d0" stroke="#363636" stroke-width="2.15"/>
<circle cx="315.40" cy="170.50" r="2.2" fill="#d0d0d0" stroke="#363636" stroke-width="2.15"/>
<circle cx="315.40" cy="187.30" r="2.2" fill="#d0d0d0" stroke="#363636" stroke-width="2.15"/>
<circle cx="315.40" cy="203.60" r="2.2" fill="#d0d0d0" stroke="#363636" stroke-width="2.15"/>
<circle cx="315.40" cy="220.30" r="2.2" fill="#d0d0d0" stroke="#363636" stroke-width="2.15"/>
<circle cx="401.60" cy="153.70" r="2.0" fill="#fff" stroke="#1c1c1c" stroke-width="1.1"/>
<circle cx="401.60" cy="220.30" r="2.0" fill="#fff" stroke="#1c1c1c" stroke-width="1.1"/>
<circle cx="179.30" cy="270.20" r="2.0" fill="#fff" stroke="#1c1c1c" stroke-width="1.1"/>
<circle cx="179.30" cy="286.80" r="2.0" fill="#fff" stroke="#1c1c1c" stroke-width="1.1"/>
<circle cx="179.30" cy="303.40" r="2.0" fill="#fff" stroke="#1c1c1c" stroke-width="1.1"/>
<circle cx="179.30" cy="320.10" r="2.0" fill="#fff" stroke="#1c1c1c" stroke-width="1.1"/>
<circle cx="315.40" cy="270.20" r="2.2" fill="#d0d0d0" stroke="#363636" stroke-width="2.15"/>
<circle cx="315.40" cy="286.80" r="2.2" fill="#d0d0d0" stroke="#363636" stroke-width="2.15"/>
<circle cx="315.40" cy="303.40" r="2.2" fill="#d0d0d0" stroke="#363636" stroke-width="2.15"/>
<circle cx="315.40" cy="320.10" r="2.2" fill="#d0d0d0" stroke="#363636" stroke-width="2.15"/>
<circle cx="401.60" cy="270.20" r="2.0" fill="#fff" stroke="#1c1c1c" stroke-width="1.1"/>
<circle cx="401.60" cy="286.80" r="2.0" fill="#fff" stroke="#1c1c1c" stroke-width="1.1"/>
<circle cx="401.60" cy="303.40" r="2.0" fill="#fff" stroke="#1c1c1c" stroke-width="1.1"/>
<circle cx="401.60" cy="320.10" r="2.0" fill="#fff" stroke="#1c1c1c" stroke-width="1.1"/>
<circle cx="401.60" cy="336.70" r="2.0" fill="#fff" stroke="#1c1c1c" stroke-width="1.1"/>
<circle cx="179.30" cy="353.50" r="2.0" fill="#fff" stroke="#1c1c1c" stroke-width="1.1"/>
<circle cx="302.00" cy="353.50" r="2.0" fill="#fff" stroke="#1c1c1c" stroke-width="1.1"/>
<circle cx="315.40" cy="353.50" r="2.2" fill="#d0d0d0" stroke="#363636" stroke-width="2.15"/>
<circle cx="315.40" cy="370.00" r="2.2" fill="#d0d0d0" stroke="#363636" stroke-width="2.15"/>
<circle cx="400.60" cy="407.60" r="2.0" fill="#fff" stroke="#1c1c1c" stroke-width="1.1"/>
<circle cx="400.60" cy="460.00" r="2.0" fill="#fff" stroke="#1c1c1c" stroke-width="1.1"/>
<circle cx="314.80" cy="391.20" r="2.2" fill="#d0d0d0" stroke="#363636" stroke-width="2.15"/>
<circle cx="314.80" cy="407.60" r="2.2" fill="#d0d0d0" stroke="#363636" stroke-width="2.15"/>
<circle cx="314.80" cy="424.30" r="2.2" fill="#d0d0d0" stroke="#363636" stroke-width="2.15"/>
<circle cx="314.80" cy="443.00" r="2.2" fill="#d0d0d0" stroke="#363636" stroke-width="2.15"/>
<circle cx="314.80" cy="460.00" r="2.2" fill="#d0d0d0" stroke="#363636" stroke-width="2.15"/>
<circle cx="314.80" cy="476.30" r="2.2" fill="#d0d0d0" stroke="#363636" stroke-width="2.15"/>
</svg>
</body></html>
